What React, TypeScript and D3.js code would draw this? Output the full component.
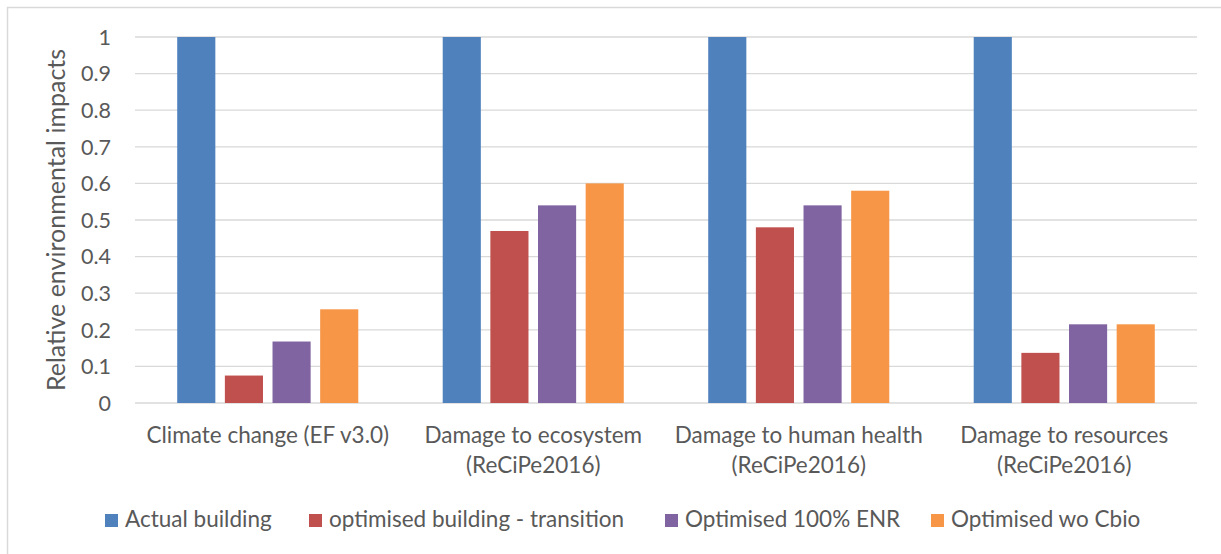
import React from "react";
import * as d3 from "d3";

const categories = [
  ["Climate change (EF v3.0)"],
  ["Damage to ecosystem", "(ReCiPe2016)"],
  ["Damage to human health", "(ReCiPe2016)"],
  ["Damage to resources", "(ReCiPe2016)"],
];
const seriesNames = [
  "Actual building",
  "optimised building - transition",
  "Optimised 100% ENR",
  "Optimised wo Cbio",
];
const actualBuilding = [1, 1, 1, 1];
const optimisedTransition = [0.075, 0.47, 0.48, 0.137];
const optimisedENR = [0.168, 0.54, 0.54, 0.215];
const optimisedWoCbio = [0.256, 0.6, 0.58, 0.215];
const yTicks = [0, 0.1, 0.2, 0.3, 0.4, 0.5, 0.6, 0.7, 0.8, 0.9, 1];
const colors = ["#4F81BD", "#C0504D", "#8064A2", "#F79646"];

const series = [actualBuilding, optimisedTransition, optimisedENR, optimisedWoCbio];

const W = 1221;
const H = 554;
const plot = { left: 135, right: 1197, top: 37, bottom: 403 };
const font = "Lato, 'Open Sans', sans-serif";
const textColor = "#595959";
const legendX = [105, 309, 665, 931];

export default function App() {
  const x0 = d3
    .scaleBand<number>()
    .domain(categories.map((_, i) => i))
    .range([plot.left, plot.right])
    .paddingInner(0.318)
    .paddingOuter(0.159);
  const x1 = d3
    .scaleBand<number>()
    .domain(series.map((_, i) => i))
    .range([0, x0.bandwidth()])
    .paddingInner(0.2)
    .paddingOuter(0);
  const y = d3.scaleLinear().domain([0, 1]).range([plot.bottom, plot.top]);

  return (
    <svg
      width={W}
      height={H}
      style={{ position: "absolute", left: 0, top: 0, background: "#fff" }}
      fontFamily={font}
    >
      <rect x={0} y={0} width={W} height={H} fill="#fff" />
      <line x1={7} y1={7.5} x2={W} y2={7.5} stroke="#D9D9D9" strokeWidth={1.5} />
      <line x1={7.5} y1={7} x2={7.5} y2={H} stroke="#D9D9D9" strokeWidth={1.5} />
      {yTicks.map((t) => (
        <g key={t}>
          <line
            x1={plot.left}
            x2={plot.right}
            y1={y(t)}
            y2={y(t)}
            stroke="#D9D9D9"
            strokeWidth={1.3}
          />
          <text
            x={111}
            y={y(t)}
            dy="0.36em"
            textAnchor="end"
            fontSize={21.5}
            fill={textColor}
          >
            {d3.format("~g")(t)}
          </text>
        </g>
      ))}
      <text
        transform={`translate(65,${(plot.top + plot.bottom) / 2}) rotate(-90)`}
        textAnchor="middle"
        fontSize={25}
        fill={textColor}
      >
        Relative environmental impacts
      </text>
      {categories.map((c, ci) => (
        <g key={ci}>
          {series.map((s, si) => (
            <rect
              key={si}
              x={(x0(ci) as number) + (x1(si) as number)}
              y={y(s[ci])}
              width={x1.bandwidth()}
              height={y(0) - y(s[ci])}
              fill={colors[si]}
            />
          ))}
          {c.map((line, li) => (
            <text
              key={li}
              x={(x0(ci) as number) + x0.bandwidth() / 2}
              y={443 + li * 30}
              textAnchor="middle"
              fontSize={22.5}
              fill={textColor}
            >
              {line}
            </text>
          ))}
        </g>
      ))}
      {seriesNames.map((n, i) => (
        <g key={n}>
          <rect x={legendX[i]} y={514} width={13} height={13} fill={colors[i]} />
          <text x={legendX[i] + 20} y={527} fontSize={22.5} fill={textColor}>
            {n}
          </text>
        </g>
      ))}
    </svg>
  );
}
